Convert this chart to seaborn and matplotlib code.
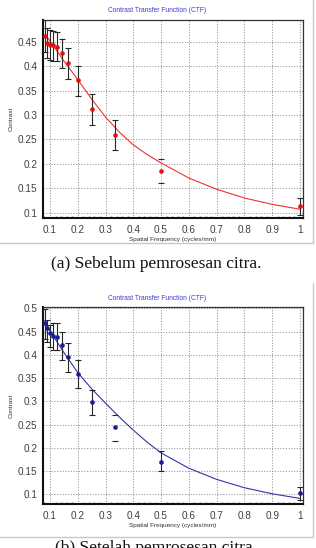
import numpy as np
import pandas as pd
import matplotlib
matplotlib.use("Agg")
import matplotlib.pyplot as plt
import seaborn as sns
from matplotlib.lines import Line2D

# ---------------- data ----------------
freq = [0.0833, 0.0909, 0.1, 0.1111, 0.125, 0.1429, 0.1667, 0.2, 0.25, 0.3333, 0.5, 1.0]

# (a) before processing
a_contrast = [0.462, 0.448, 0.443, 0.444, 0.440, 0.428, 0.406, 0.371, 0.312, 0.260, 0.186, 0.113]
a_lower = [0.430, 0.418, 0.412, 0.411, 0.410, 0.396, 0.373, 0.339, 0.279, 0.229, 0.161, 0.095]
a_upper = [0.494, 0.478, 0.474, 0.473, 0.470, 0.457, 0.437, 0.401, 0.344, 0.289, 0.210, 0.129]
a_fit_x = [0.083, 0.1, 0.15, 0.2, 0.25, 0.3, 0.35, 0.4, 0.45, 0.5, 0.6, 0.7, 0.8, 0.9, 1.0]
a_fit_y = [0.466, 0.452, 0.411, 0.373, 0.333, 0.296, 0.265, 0.239, 0.219, 0.202, 0.171, 0.148, 0.130, 0.117, 0.107]

# (b) after processing
b_contrast = [0.469, 0.457, 0.447, 0.440, 0.439, 0.421, 0.396, 0.359, 0.298, 0.244, 0.170, 0.102]
b_lower = [0.435, 0.428, 0.416, 0.410, 0.410, 0.389, 0.364, 0.328, 0.271, 0.215, 0.149, 0.088]
b_upper = [0.498, 0.475, 0.464, 0.468, 0.468, 0.450, 0.426, 0.389, 0.324, 0.271, 0.192, 0.115]
b_fit_x = [0.083, 0.1, 0.15, 0.2, 0.25, 0.3, 0.35, 0.4, 0.45, 0.5, 0.6, 0.7, 0.8, 0.9, 1.0]
b_fit_y = [0.468, 0.452, 0.405, 0.362, 0.327, 0.296, 0.266, 0.238, 0.212, 0.189, 0.156, 0.132, 0.114, 0.101, 0.091]

x_ticks = [0.1, 0.2, 0.3, 0.4, 0.5, 0.6, 0.7, 0.8, 0.9, 1.0]
x_tick_labels = ["0.1", "0.2", "0.3", "0.4", "0.5", "0.6", "0.7", "0.8", "0.9", "1"]
a_y_ticks = [0.1, 0.15, 0.2, 0.25, 0.3, 0.35, 0.4, 0.45]
a_y_tick_labels = ["0.1", "0.15", "0.2", "0.25", "0.3", "0.35", "0.4", "0.45"]
b_y_ticks = [0.1, 0.15, 0.2, 0.25, 0.3, 0.35, 0.4, 0.45, 0.5]
b_y_tick_labels = ["0.1", "0.15", "0.2", "0.25", "0.3", "0.35", "0.4", "0.45", "0.5"]

title_text = "Contrast Transfer Function (CTF)"
x_label = "Spatial Frequency (cycles/mm)"
y_label = "Contrast"
caption_a = "(a) Sebelum pemrosesan citra."
caption_b = "(b) Setelah pemrosesan citra."

# ---------------- style ----------------
sns.set_theme(style="white")
plt.rcParams["font.family"] = ["Liberation Sans", "DejaVu Sans"]

W, H = 316, 548
fig = plt.figure(figsize=(W / 100, H / 100), dpi=100)


def frac_y(py):
    return 1 - py / H


def panel(rect_px, contrast, lower, upper, fit_x, fit_y, yticks, yticklabels, ylim,
          pcolor, lcolor, hidden_stem, title_py):
    left, top, right, bottom = rect_px
    ax = fig.add_axes([left / W, frac_y(bottom), (right - left) / W, (bottom - top) / H])
    df = pd.DataFrame({"f": freq, "c": contrast, "lo": lower, "hi": upper})
    fit = pd.DataFrame({"f": fit_x, "c": fit_y})

    # fitted curve
    sns.lineplot(data=fit, x="f", y="c", ax=ax, color=lcolor, lw=0.8, zorder=3)

    # error bars
    err_lo = df["c"] - df["lo"]
    err_hi = df["hi"] - df["c"]
    vis = ~df.index.isin(hidden_stem)
    ax.errorbar(df["f"][vis], df["c"][vis], yerr=[err_lo[vis], err_hi[vis]], fmt="none",
                ecolor="#262626", elinewidth=0.8, capsize=2.5, capthick=0.8, zorder=4)
    hid = df.index.isin(hidden_stem)
    if hid.any():
        ax.errorbar(df["f"][hid], df["c"][hid], yerr=[err_lo[hid], err_hi[hid]], fmt="none",
                    ecolor="#262626", elinewidth=0.0, capsize=2.5, capthick=0.8, zorder=4)

    # points
    sns.scatterplot(data=df, x="f", y="c", ax=ax, color=pcolor, s=11, edgecolor=pcolor,
                    linewidth=0, zorder=5)

    ax.set_xlim(0.075, 1.011)
    ax.set_ylim(*ylim)
    ax.set_xticks(x_ticks)
    ax.set_xticklabels(x_tick_labels)
    ax.set_yticks(yticks)
    ax.set_yticklabels(yticklabels)
    ax.set_xticks(np.arange(0.08, 1.01, 0.02), minor=True)
    ax.tick_params(axis="both", which="major", labelsize=7.2, labelcolor="#404040",
                   length=0, pad=4)
    ax.tick_params(axis="x", which="major", length=2.5, direction="in", color="#555555", pad=5)
    ax.tick_params(axis="x", which="minor", length=1.5, direction="in", color="#777777",
                   bottom=True)
    ax.grid(True, which="major", color="#9a9a9a", lw=0.7, ls=(0, (1.2, 1.6)))
    ax.set_axisbelow(True)
    for side in ["left", "bottom"]:
        ax.spines[side].set_color("#111111")
        ax.spines[side].set_linewidth(1.5)
    for side in ["top", "right"]:
        ax.spines[side].set_color("#333333")
        ax.spines[side].set_linewidth(0.9)
    ax.set_xlabel(x_label, fontsize=4.6, color="#303030", labelpad=1.5)
    ax.set_ylabel(y_label, fontsize=4.6, color="#303030", labelpad=3)
    fig.text(157 / W, frac_y(title_py), title_text, fontsize=4.8, color="#3a3ad0",
             ha="center", va="center")
    return ax


ax1 = panel((43, 20, 303, 218), a_contrast, a_lower, a_upper, a_fit_x, a_fit_y,
            a_y_ticks, a_y_tick_labels, (0.089, 0.495), "#e01010", "#f03030", [10], 11)
ax2 = panel((43, 307, 303, 504), b_contrast, b_lower, b_upper, b_fit_x, b_fit_y,
            b_y_ticks, b_y_tick_labels, (0.079, 0.503), "#1a1a9a", "#3434a6", [9], 298)

# image frame lines
for (y0, y1) in [(0, 243), (283, 537)]:
    fig.add_artist(Line2D([0, 313 / W], [frac_y(y1), frac_y(y1)], color="#c8c8c8", lw=1.0,
                          transform=fig.transFigure))
    fig.add_artist(Line2D([313 / W, 313 / W], [frac_y(y0), frac_y(y1)], color="#c8c8c8", lw=1.0,
                          transform=fig.transFigure))

serif = ["Liberation Serif", "DejaVu Serif"]
fig.text(156 / W, frac_y(264), caption_a, fontsize=12.5, family=serif, color="#111111",
         ha="center", va="center")
fig.text(156 / W, frac_y(540), caption_b, fontsize=12.5, family=serif, color="#111111",
         ha="center", va="top")

fig.savefig("out.png", dpi=100)
